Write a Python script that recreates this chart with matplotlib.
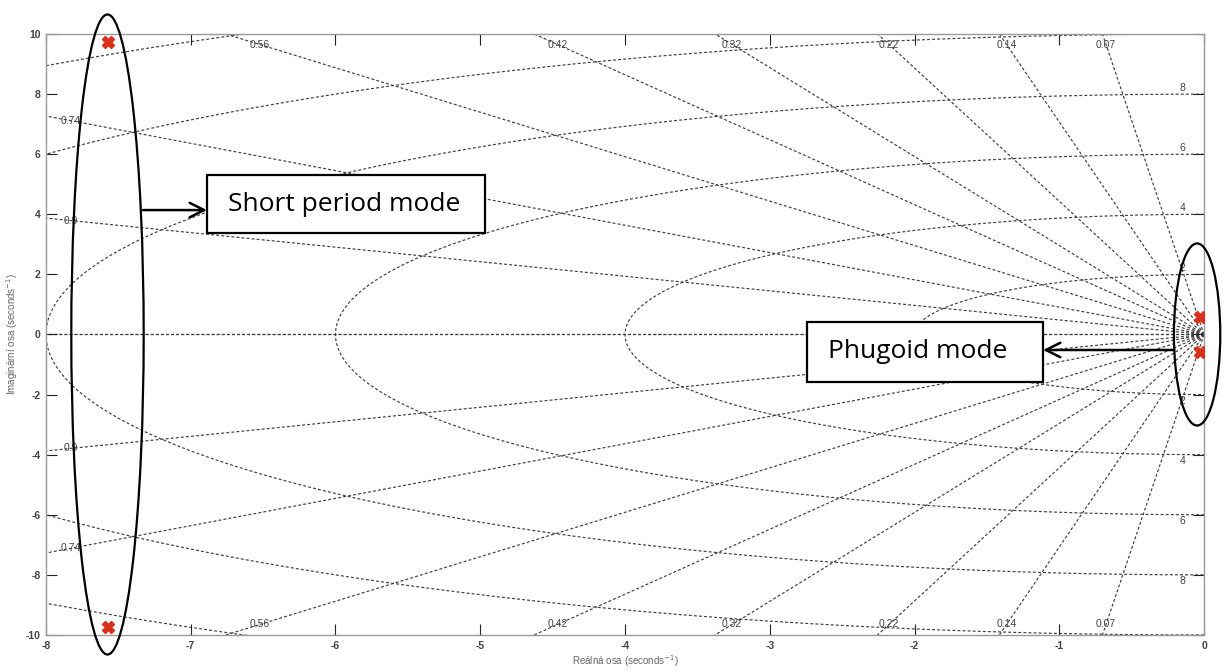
import numpy as np
import matplotlib.pyplot as plt
from matplotlib.patches import Ellipse, Rectangle

plt.rcParams['axes.unicode_minus'] = False

# Data
zeta = [0.07, 0.14, 0.22, 0.32, 0.42, 0.56, 0.74, 0.9]
wn = [2, 4, 6, 8, 10, 12]
wn_labels = [2, 4, 6, 8]
pole_re = [-7.57, -7.57, -0.03, -0.03]
pole_im = [9.74, -9.74, 0.57, -0.57]
xticks = [-8, -7, -6, -5, -4, -3, -2, -1, 0]
yticks = [-10, -8, -6, -4, -2, 0, 2, 4, 6, 8, 10]

grid_kw = dict(color='#404040', lw=0.85, ls=(0, (2.5, 1.8)), zorder=1)
lab_kw = dict(fontsize=7.5, color='#444444', family='Liberation Sans')

fig = plt.figure(figsize=(12.29, 6.72), dpi=100)
ax = fig.add_axes([0.0374, 0.0551, 0.9423, 0.8943])
ax.set_xlim(-8, 0)
ax.set_ylim(-10, 10)

# damping lines
for z in zeta + [1.0]:
    s = np.sqrt(1 - z**2)
    for sign in (1, -1):
        ax.plot([0, -20 * z], [0, sign * 20 * s], **grid_kw)

# natural frequency semicircles
th = np.linspace(np.pi / 2, 3 * np.pi / 2, 400)
for w in wn:
    ax.plot(w * np.cos(th), w * np.sin(th), **grid_kw)

# damping labels
for z in zeta:
    s = np.sqrt(1 - z**2)
    x_top = -10 * z / s
    for sign in (1, -1):
        if x_top > -8:
            ax.text(-9.65 * z / s, sign * 9.65, f'{z:g}', ha='center', va='center', **lab_kw)
        else:
            ax.text(-7.83, sign * 7.83 * s / z, f'{z:g}', ha='center', va='center', **lab_kw)

# natural frequency labels
for w in wn_labels:
    ax.text(-0.15, w + 0.05, str(w), ha='center', va='bottom', **lab_kw)
    ax.text(-0.15, -w - 0.05, str(w), ha='center', va='top', **lab_kw)

# poles
ax.plot(pole_re, pole_im, ls='none', marker='X', ms=8, color='#d8301a', mec='#d8301a', zorder=5)

ax.set_xticks(xticks)
ax.set_yticks(yticks)
ax.set_xticklabels([str(t) for t in xticks])
ax.set_yticklabels([str(t) for t in yticks])
ax.tick_params(direction='in', length=8, width=0.8, top=True, right=True,
               color='#222222', labelcolor='#444444', labelsize=7.5, pad=4)
for lbl in ax.get_xticklabels() + ax.get_yticklabels():
    lbl.set_fontweight('bold')
    lbl.set_family('Liberation Sans')
for sp in ax.spines.values():
    sp.set_color('#999999')
    sp.set_linewidth(1)

ax.set_xlabel('Reálná osa (seconds$^{-1}$)', fontsize=7, color='#666666', family='Liberation Sans', labelpad=2)
ax.set_ylabel('Imaginární osa (seconds$^{-1}$)', fontsize=7, color='#666666', family='Liberation Sans', labelpad=4)

# annotations
ann_kw = dict(fill=False, ec='black', lw=1.6, clip_on=False, zorder=6)
ax.add_patch(Ellipse((-7.575, 0), 0.50, 21.3, **ann_kw))
ax.add_patch(Ellipse((-0.048, 0), 0.32, 6.06, **ann_kw))

box_kw = dict(fill=True, fc='white', ec='black', lw=1.6, clip_on=False, zorder=6)
ax.add_patch(Rectangle((-6.888, 3.38), 1.921, 1.93, **box_kw))
ax.add_patch(Rectangle((-2.743, -1.58), 1.631, 2.0, **box_kw))
ax.text(-6.745, 4.33, 'Short period mode', fontsize=19, family='Open Sans', ha='left', va='center', zorder=7)
ax.text(-2.60, -0.56, 'Phugoid mode', fontsize=19, family='Open Sans', ha='left', va='center', zorder=7)

arrow_kw = dict(arrowstyle='->', lw=1.8, color='black', mutation_scale=26, shrinkA=0, shrinkB=0)
ax.annotate('', xy=(-6.888, 4.14), xytext=(-7.33, 4.14), arrowprops=arrow_kw, zorder=7)
ax.annotate('', xy=(-1.112, -0.516), xytext=(-0.207, -0.516), arrowprops=arrow_kw, zorder=7)

fig.savefig('out.png', dpi=100)
